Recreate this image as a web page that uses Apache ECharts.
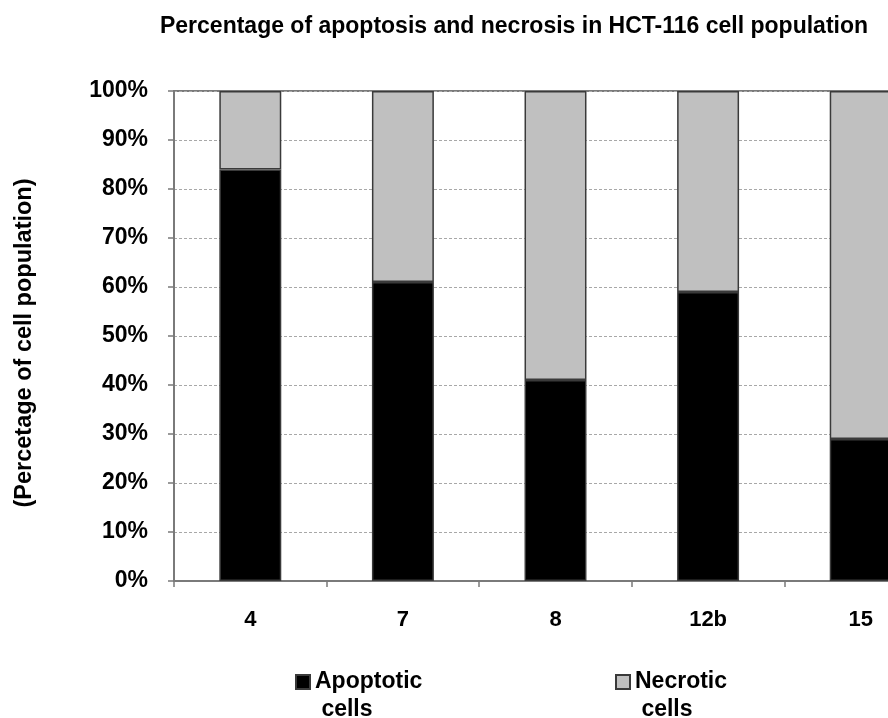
<!DOCTYPE html>
<html>
<head>
<meta charset="utf-8">
<script src="https://cdn.jsdelivr.net/npm/echarts@6/dist/echarts.min.js"></script>
<style>
html,body{margin:0;padding:0;background:#fff;}
#chart{width:888px;height:718px;}
</style>
</head>
<body>
<div id="chart"></div>
<script>
var titleText = 'Percentage of apoptosis and necrosis in HCT-116 cell population';
var yAxisName = '(Percetage of cell population)';
var categories = ['4', '7', '8', '12b', '15'];
var apoptotic = [84, 61, 41, 59, 29];
var necrotic = [16, 39, 59, 41, 71];
var seriesNames = ['Apoptotic\n cells', 'Necrotic\n cells'];

var font = 'Arial, "Liberation Sans", sans-serif';
var chart = echarts.init(document.getElementById('chart'), null, {renderer: 'canvas'});
var legendText = {
  fontFamily: font, fontWeight: 'bold', fontSize: 23, color: '#000', lineHeight: 28,
  padding: [28, 0, 0, 0],
  rich: {t: {fontFamily: font, fontWeight: 'bold', fontSize: 23, color: '#000', lineHeight: 28}}
};
function legendFmt(name) {
  return name.split('\n').map(function (s) { return '{t|' + s + '}'; }).join('\n');
}
chart.setOption({
  backgroundColor: '#fff',
  animation: false,
  title: {
    text: titleText,
    left: 514, top: 15, padding: 0, textAlign: 'center',
    textStyle: {fontFamily: font, fontWeight: 'bold', fontSize: 23, color: '#000'}
  },
  legend: [
    {data: [seriesNames[0]], left: 295, top: 640, padding: 0, itemWidth: 14, itemHeight: 14, itemGap: 0,
     icon: 'rect', textStyle: legendText, formatter: legendFmt, selectedMode: false},
    {data: [seriesNames[1]], left: 615, top: 640, padding: 0, itemWidth: 14, itemHeight: 14, itemGap: 0,
     icon: 'rect', textStyle: legendText, formatter: legendFmt, selectedMode: false}
  ],
  grid: {left: 174, top: 91, height: 490, width: 763, outerBoundsMode: 'none',
         show: true, borderColor: '#7a7a7a', borderWidth: 2, backgroundColor: 'transparent', containLabel: false},
  xAxis: {
    type: 'category', data: categories,
    axisLine: {lineStyle: {color: '#7a7a7a', width: 2}},
    axisTick: {show: true, length: 6, lineStyle: {color: '#7a7a7a', width: 1.5}},
    axisLabel: {margin: 28, fontFamily: font, fontWeight: 'bold', fontSize: 22, color: '#000', hideOverlap: false},
    splitLine: {show: false}
  },
  yAxis: {
    type: 'value', min: 0, max: 100, interval: 10,
    name: yAxisName, nameLocation: 'middle', nameGap: 137, nameRotate: 90,
    nameTextStyle: {fontFamily: font, fontWeight: 'bold', fontSize: 23.5, color: '#000', padding: [0, 14, 0, 0]},
    axisLine: {show: true, lineStyle: {color: '#7a7a7a', width: 2}},
    axisTick: {show: true, length: 6, lineStyle: {color: '#7a7a7a', width: 1.5}},
    axisLabel: {margin: 26, formatter: '{value}%', fontFamily: font, fontWeight: 'bold', fontSize: 23, color: '#000'},
    splitLine: {show: true, lineStyle: {color: '#a8a8a8', type: [3, 2], width: 1}}
  },
  series: [
    {name: seriesNames[0], type: 'bar', stack: 'total', data: apoptotic, barWidth: '40.6%',
     itemStyle: {color: '#000000', borderColor: '#3a3a3a', borderWidth: 1.5}},
    {name: seriesNames[1], type: 'bar', stack: 'total', data: necrotic, barWidth: '40.6%',
     itemStyle: {color: '#c0c0c0', borderColor: '#3a3a3a', borderWidth: 1.5}}
  ]
});
</script>
</body>
</html>
